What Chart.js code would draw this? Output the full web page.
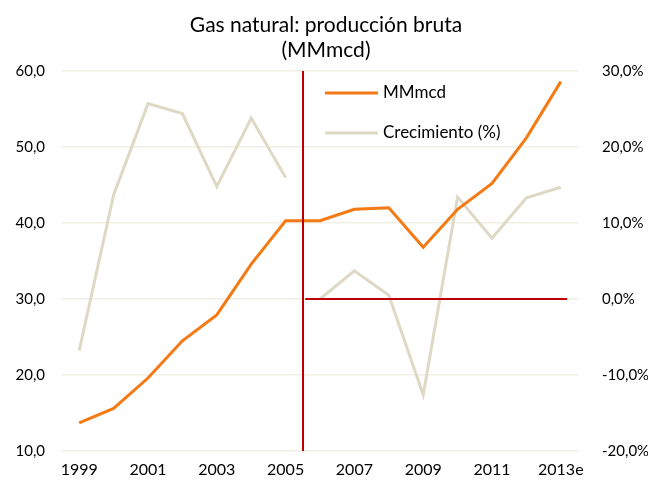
<!DOCTYPE html>
<html><head><meta charset="utf-8">
<script src="https://cdn.jsdelivr.net/npm/chart.js@4/dist/chart.umd.min.js"></script>
<style>html,body{margin:0;padding:0;background:#fff}#wrap{width:648px;height:481px}</style>
</head><body><div id="wrap"><canvas id="c" width="648" height="481"></canvas></div>
<script>
const categories = ['1999','2000','2001','2002','2003','2004','2005','2006','2007','2008','2009','2010','2011','2012','2013e'];
const mmmcd = [13.7, 15.6, 19.6, 24.5, 27.9, 34.6, 40.3, 40.3, 41.8, 42.0, 36.8, 41.8, 45.2, 51.2, 58.6];
const crecimiento = [-6.8, 13.7, 25.7, 24.4, 14.8, 23.8, 16.0, 0.0, 3.7, 0.5, -12.6, 13.4, 8.0, 13.3, 14.7];
const titleLines = ['Gas natural: producción bruta', '(MMmcd)'];
const legendLabels = ['MMmcd', 'Crecimiento (%)'];

const FONT = 'Lato, "Open Sans", sans-serif';
const ORANGE = '#F57A14';
const TAN = '#DDD9C4';
const RED = '#C00000';
const fmt = v => v.toFixed(1).replace('.', ',');

const overlay = {
  id: 'overlay',
  afterDatasetsDraw(chart) {
    const ctx = chart.ctx, x = chart.scales.x, y1 = chart.scales.y1, a = chart.chartArea;
    ctx.save();
    ctx.strokeStyle = RED; ctx.lineWidth = 2;
    const vx = Math.round(x.getPixelForValue(6.5));
    ctx.beginPath(); ctx.moveTo(vx, a.top); ctx.lineTo(vx, a.bottom); ctx.stroke();
    const y0 = y1.getPixelForValue(0);
    ctx.beginPath(); ctx.moveTo(x.getPixelForValue(6.57), y0); ctx.lineTo(x.getPixelForValue(14.18), y0); ctx.stroke();
    // legend
    const items = [[ORANGE, legendLabels[0], 93], [TAN, legendLabels[1], 133]];
    ctx.font = '17px ' + FONT; ctx.textBaseline = 'middle'; ctx.fillStyle = '#000';
    items.forEach(([c, t, yy]) => {
      ctx.strokeStyle = c; ctx.lineWidth = 3;
      ctx.beginPath(); ctx.moveTo(325, yy); ctx.lineTo(378, yy); ctx.stroke();
      ctx.fillText(t, 383, yy);
    });
    // title
    ctx.font = '21px ' + FONT; ctx.textAlign = 'center'; ctx.textBaseline = 'alphabetic';
    ctx.fillText(titleLines[0], 326, 32);
    ctx.fillText(titleLines[1], 326, 57);
    ctx.restore();
  }
};

new Chart(document.getElementById('c'), {
  type: 'line',
  data: {
    labels: categories,
    datasets: [
      { label: legendLabels[0], data: mmmcd, yAxisID: 'y', borderColor: ORANGE, borderWidth: 3, pointRadius: 0, tension: 0, order: 1 },
      { label: legendLabels[1], data: crecimiento, yAxisID: 'y1', borderColor: TAN, borderWidth: 3, pointRadius: 0, tension: 0, order: 2,
        segment: { borderColor: c => c.p0DataIndex === 6 ? 'rgba(0,0,0,0)' : undefined } }
    ]
  },
  options: {
    responsive: false, animation: false,
    layout: { padding: { top: 71, left: 0, right: 0, bottom: 0 } },
    plugins: { legend: { display: false }, title: { display: false }, tooltip: { enabled: false } },
    scales: {
      x: {
        offset: true,
        grid: { display: false, drawTicks: false, offset: true }, border: { display: false },
        ticks: { autoSkip: false, maxRotation: 0, padding: 9, color: '#000', font: { family: FONT, size: 16 },
          callback: (v, i) => i % 2 === 0 ? categories[i] : '' },
        afterFit: s => { s.height = 30; }
      },
      y: {
        position: 'left', min: 10, max: 60,
        ticks: { stepSize: 10, padding: 17, color: '#000', font: { family: FONT, size: 15 }, callback: v => fmt(v) },
        grid: { color: '#F2F0E6', lineWidth: 1.5, drawTicks: false }, border: { display: false },
        afterFit: s => { s.width = 62; s.paddingBottom = 0; s.paddingTop = 0; }
      },
      y1: {
        position: 'right', min: -20, max: 30,
        ticks: { stepSize: 10, padding: 24, color: '#000', font: { family: FONT, size: 15 }, callback: v => fmt(v) + '%' },
        grid: { display: false, drawTicks: false }, border: { display: false },
        afterFit: s => { s.width = 70; s.paddingBottom = 0; s.paddingTop = 0; }
      }
    }
  },
  plugins: [overlay]
});
</script></body></html>
